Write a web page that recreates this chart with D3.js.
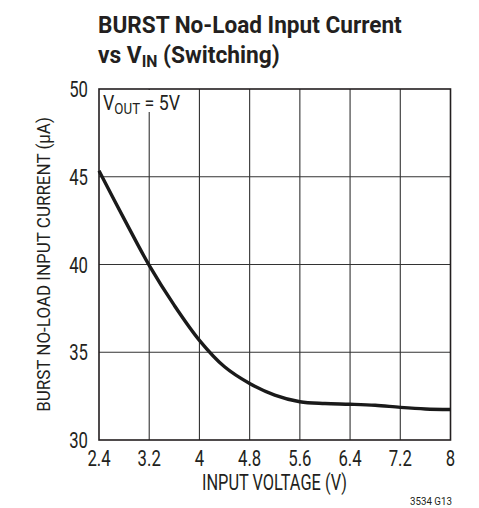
<!DOCTYPE html>
<html>
<head>
<meta charset="utf-8">
<script src="https://cdn.jsdelivr.net/npm/d3@7"></script>
<style>
  body { margin: 0; background: #fff; }
  svg text { font-family: "Liberation Sans Narrow", "Roboto", sans-serif; fill: #231f20; }
</style>
</head>
<body>
<div id="chart"></div>
<script>
// data
var vin = [2.4, 2.8, 3.2, 3.6, 4.0, 4.4, 4.8, 5.2, 5.6, 6.0, 6.4, 6.8, 7.2, 7.6, 8.0];
var current = [45.34, 42.6, 39.95, 37.67, 35.68, 34.17, 33.22, 32.56, 32.18, 32.08, 32.04, 31.98, 31.86, 31.77, 31.74];
var xTicks = [2.4, 3.2, 4, 4.8, 5.6, 6.4, 7.2, 8];
var yTicks = [30, 35, 40, 45, 50];

var svgWidth = 479, svgHeight = 508;
var margin = { top: 89, bottom: 68, left: 99, right: 28.5 };
var width = svgWidth - margin.left - margin.right;
var height = svgHeight - margin.top - margin.bottom;

// squeeze text horizontally so it looks like the condensed face of the original
function squeeze(sel, x, y, k) {
    sel.attr("x", 0).attr("y", 0)
        .attr("transform", `translate(${x}, ${y}) scale(${k}, 1)`);
}
// squeeze a text to an exact width (left anchored)
function fitWidth(sel, x, y, w) {
    squeeze(sel, x, y, 1);
    var k = w / sel.node().getComputedTextLength();
    squeeze(sel, x, y, k);
}

var svg = d3.select("#chart")
    .append("svg")
    .attr("width", svgWidth)
    .attr("height", svgHeight);

// title
var t1 = svg.append("text")
    .attr("font-weight", "bold")
    .attr("font-size", "24.5px")
    .text("BURST No-Load Input Current");
fitWidth(t1, 98, 33, 304);

var t2 = svg.append("text")
    .attr("font-weight", "bold")
    .attr("font-size", "24.5px");
t2.append("tspan").text("vs V");
t2.append("tspan").attr("font-size", "17px").attr("dy", 4).text("IN");
t2.append("tspan").attr("dy", -4).text(" (Switching)");
fitWidth(t2, 98, 63, 182);

var chartGroup = svg.append("g")
    .attr("transform", `translate(${margin.left}, ${margin.top})`);

// scales
var x = d3.scaleLinear().domain([2.4, 8]).range([0, width]);
var y = d3.scaleLinear().domain([30, 50]).range([height, 0]);

// grid
chartGroup.append("g")
    .selectAll("line")
    .data(xTicks.slice(1, -1))
    .enter()
    .append("line")
    .attr("x1", d => x(d)).attr("x2", d => x(d))
    .attr("y1", 0).attr("y2", height)
    .attr("stroke", "#333").attr("stroke-width", 1.1);

chartGroup.append("g")
    .selectAll("line")
    .data(yTicks.slice(1, -1))
    .enter()
    .append("line")
    .attr("x1", 0).attr("x2", width)
    .attr("y1", d => y(d)).attr("y2", d => y(d))
    .attr("stroke", "#333").attr("stroke-width", 1.1);

// VOUT label with white box behind it
chartGroup.append("rect")
    .attr("x", 1).attr("y", 1)
    .attr("width", 84).attr("height", 22)
    .attr("fill", "#fff");
var vl = chartGroup.append("text")
    .attr("font-size", "20px");
vl.append("tspan").text("V");
vl.append("tspan").attr("font-size", "15px").attr("dy", 4).text("OUT");
vl.append("tspan").attr("dy", -4).text(" = 5V");
fitWidth(vl, 4, 21, 77);

// frame
chartGroup.append("rect")
    .attr("width", width).attr("height", height)
    .attr("fill", "none")
    .attr("stroke", "#231f20").attr("stroke-width", 1.6);

// curve
var line = d3.line()
    .x(d => x(d[0]))
    .y(d => y(d[1]))
    .curve(d3.curveCatmullRom.alpha(0.5));

chartGroup.append("path")
    .datum(d3.zip(vin, current))
    .attr("d", line)
    .attr("fill", "none")
    .attr("stroke", "#1a1a1a")
    .attr("stroke-width", 3.4)
    .attr("stroke-linejoin", "round");

// tick labels
chartGroup.append("g")
    .selectAll("text")
    .data(xTicks)
    .enter()
    .append("text")
    .attr("text-anchor", "middle")
    .attr("font-size", "22px")
    .text(d => d)
    .each(function(d) { squeeze(d3.select(this), x(d), height + 26, 0.76); });

chartGroup.append("g")
    .selectAll("text")
    .data(yTicks)
    .enter()
    .append("text")
    .attr("text-anchor", "end")
    .attr("font-size", "22px")
    .text(d => d)
    .each(function(d) { squeeze(d3.select(this), -11, y(d) + 8, 0.76); });

// axis titles
var xt = svg.append("text")
    .attr("font-size", "21.5px")
    .text("INPUT VOLTAGE (V)");
fitWidth(xt, 202, 490, 145);

var yt = svg.append("text")
    .attr("font-size", "18.5px")
    .attr("text-anchor", "middle")
    .text("BURST NO-LOAD INPUT CURRENT (\u00b5A)");
var ytLen = yt.node().getComputedTextLength();
yt.attr("transform", `translate(50, 264.5) rotate(-90) scale(${295 / ytLen}, 1)`);

var ft = svg.append("text")
    .attr("font-size", "10.5px")
    .text("3534 G13");
fitWidth(ft, 410, 505, 42);
</script>
</body>
</html>
